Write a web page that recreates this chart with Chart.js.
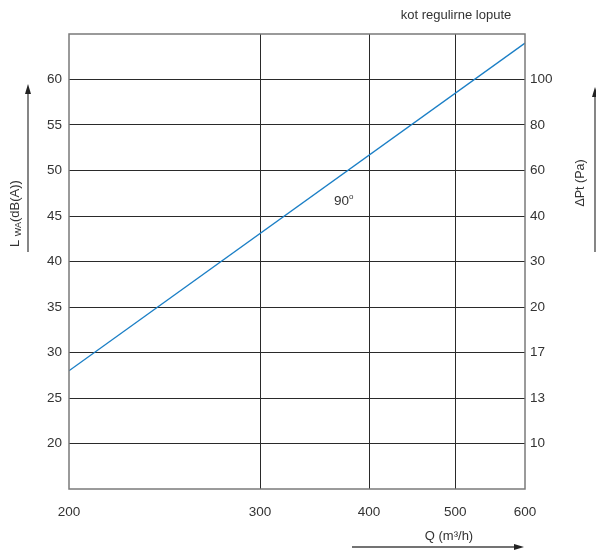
<!DOCTYPE html>
<html>
<head>
<meta charset="utf-8">
<script src="https://cdn.jsdelivr.net/npm/chart.js@4/dist/chart.umd.min.js"></script>
<style>
  html, body { margin: 0; padding: 0; background: #fff; }
  canvas { display: block; }
</style>
</head>
<body>
<canvas id="chart" width="596" height="554"></canvas>
<script>
// ── Data ──────────────────────────────────────────────────────────────────
const flowValues = [200, 600];            // Q (m3/h)
const soundValues = [28, 64];             // LWA dB(A) at 90°
const flowTicks = [200, 300, 400, 500, 600];
const soundTicks = [20, 25, 30, 35, 40, 45, 50, 55, 60];
const pressureLabels = ['10', '13', '17', '20', '30', '40', '60', '80', '100'];
const curveLabel = '90';

// hand-drawn spacing of the flow axis (fraction of width at each flow tick)
const flowStops = [0, 0.419, 0.658, 0.847, 1];

const FONT = "'Liberation Sans', Arial, sans-serif";
const TEXT = '#333';
const GRID = '#2a2a2a';
const FRAME = '#7a7a7a';
const BLUE = '#1b7fc6';

// ── Warped flow scale ─────────────────────────────────────────────────────
function flowToFrac(v) {
  for (let i = 0; i < flowTicks.length - 1; i++) {
    const a = flowTicks[i], b = flowTicks[i + 1];
    if (v <= b || i === flowTicks.length - 2) {
      const t = (Math.log(v) - Math.log(a)) / (Math.log(b) - Math.log(a));
      return flowStops[i] + t * (flowStops[i + 1] - flowStops[i]);
    }
  }
}
function fracToFlow(f) {
  for (let i = 0; i < flowStops.length - 1; i++) {
    if (f <= flowStops[i + 1] || i === flowStops.length - 2) {
      const t = (f - flowStops[i]) / (flowStops[i + 1] - flowStops[i]);
      const a = Math.log(flowTicks[i]), b = Math.log(flowTicks[i + 1]);
      return Math.exp(a + t * (b - a));
    }
  }
}

class WarpScale extends Chart.LinearScale {
  buildTicks() { return flowTicks.map(v => ({ value: v })); }
  getPixelForValue(v) { return this.getPixelForDecimal(flowToFrac(v)); }
  getValueForPixel(p) { return fracToFlow(this.getDecimalForPixel(p)); }
}
WarpScale.id = 'warp';
WarpScale.defaults = Chart.LinearScale.defaults;
Chart.register(WarpScale);

// ── Annotations: frame, titles, arrows ────────────────────────────────────
function arrow(ctx, x1, y1, x2, y2) {
  const ang = Math.atan2(y2 - y1, x2 - x1);
  ctx.beginPath();
  ctx.moveTo(x1, y1);
  ctx.lineTo(x2 - 8 * Math.cos(ang), y2 - 8 * Math.sin(ang));
  ctx.stroke();
  ctx.save();
  ctx.translate(x2, y2);
  ctx.rotate(ang);
  ctx.beginPath();
  ctx.moveTo(0, 0);
  ctx.lineTo(-10, -3);
  ctx.lineTo(-10, 3);
  ctx.closePath();
  ctx.fill();
  ctx.restore();
}

const decor = {
  id: 'decor',
  afterDraw(chart) {
    const { ctx, chartArea: a } = chart;
    ctx.save();
    ctx.strokeStyle = FRAME;
    ctx.lineWidth = 1.5;
    ctx.strokeRect(a.left, a.top, a.right - a.left, a.bottom - a.top);

    ctx.fillStyle = TEXT;
    ctx.textBaseline = 'middle';
    ctx.font = `13px ${FONT}`;
    ctx.textAlign = 'center';
    ctx.fillText('kot regulirne lopute', 456, 15);
    ctx.fillText('Q (m³/h)', 449, 536);

    // curve label "90°"
    ctx.font = `13.5px ${FONT}`;
    ctx.textAlign = 'left';
    ctx.fillText(curveLabel, 334, 201);
    const lw = ctx.measureText(curveLabel).width;
    ctx.font = `8px ${FONT}`;
    ctx.fillText('o', 334 + lw, 197);

    // left title L_WA(dB(A))
    ctx.save();
    ctx.translate(15, 247);
    ctx.rotate(-Math.PI / 2);
    ctx.textAlign = 'left';
    ctx.font = `13px ${FONT}`;
    ctx.fillText('L', 0, 0);
    let w = ctx.measureText('L ').width;
    ctx.font = `9px ${FONT}`;
    ctx.fillText('WA', w, 4);
    w += ctx.measureText('WA').width;
    ctx.font = `13px ${FONT}`;
    ctx.fillText('(dB(A))', w, 0);
    ctx.restore();

    // right title
    ctx.save();
    ctx.translate(581, 183);
    ctx.rotate(-Math.PI / 2);
    ctx.textAlign = 'center';
    ctx.font = `12.5px ${FONT}`;
    ctx.fillText('ΔPt (Pa)', 0, 0);
    ctx.restore();

    // arrows
    ctx.strokeStyle = '#444';
    ctx.fillStyle = '#222';
    ctx.lineWidth = 1.3;
    arrow(ctx, 28, 252, 28, 84);
    arrow(ctx, 595, 252, 595, 87);
    arrow(ctx, 352, 547, 524, 547);
    ctx.restore();
  }
};

// ── Chart ─────────────────────────────────────────────────────────────────
new Chart(document.getElementById('chart'), {
  type: 'line',
  data: {
    datasets: [{
      label: curveLabel,
      data: flowValues.map((x, i) => ({ x, y: soundValues[i] })),
      borderColor: BLUE,
      borderWidth: 1.3,
      pointRadius: 0,
      fill: false,
      tension: 0,
      xAxisID: 'x',
      yAxisID: 'y'
    }]
  },
  options: {
    responsive: false,
    animation: false,
    devicePixelRatio: 1,
    layout: { padding: { top: 34, left: 0, right: 0, bottom: 0 } },
    plugins: { legend: { display: false }, tooltip: { enabled: false } },
    scales: {
      x: {
        type: 'warp',
        min: 200, max: 600,
        afterFit(s) { s.height = 65; },
        border: { display: false },
        grid: {
          drawTicks: false,
          color: ctx => (ctx.tick && (ctx.tick.value === 200 || ctx.tick.value === 600)) ? 'rgba(0,0,0,0)' : GRID,
          lineWidth: 1
        },
        ticks: {
          padding: 15,
          color: TEXT,
          font: { family: FONT, size: 13.5 },
          maxRotation: 0,
          autoSkip: false,
          callback: v => String(v)
        }
      },
      y: {
        type: 'linear',
        position: 'left',
        min: 15, max: 65,
        afterBuildTicks(s) { s.ticks = soundTicks.map(v => ({ value: v })); },
        afterFit(s) { s.width = 69; },
        border: { display: false },
        grid: { drawTicks: false, color: GRID, lineWidth: 1 },
        ticks: {
          padding: 7,
          color: TEXT,
          font: { family: FONT, size: 13.5 },
          callback: v => String(v)
        }
      },
      y2: {
        type: 'linear',
        position: 'right',
        min: 15, max: 65,
        afterBuildTicks(s) { s.ticks = soundTicks.map(v => ({ value: v })); },
        afterFit(s) { s.width = 71; },
        border: { display: false },
        grid: { display: false, drawTicks: false },
        ticks: {
          padding: 5,
          color: TEXT,
          font: { family: FONT, size: 13.5 },
          callback: v => pressureLabels[soundTicks.indexOf(v)] || ''
        }
      }
    }
  },
  plugins: [decor]
});
</script>
</body>
</html>
